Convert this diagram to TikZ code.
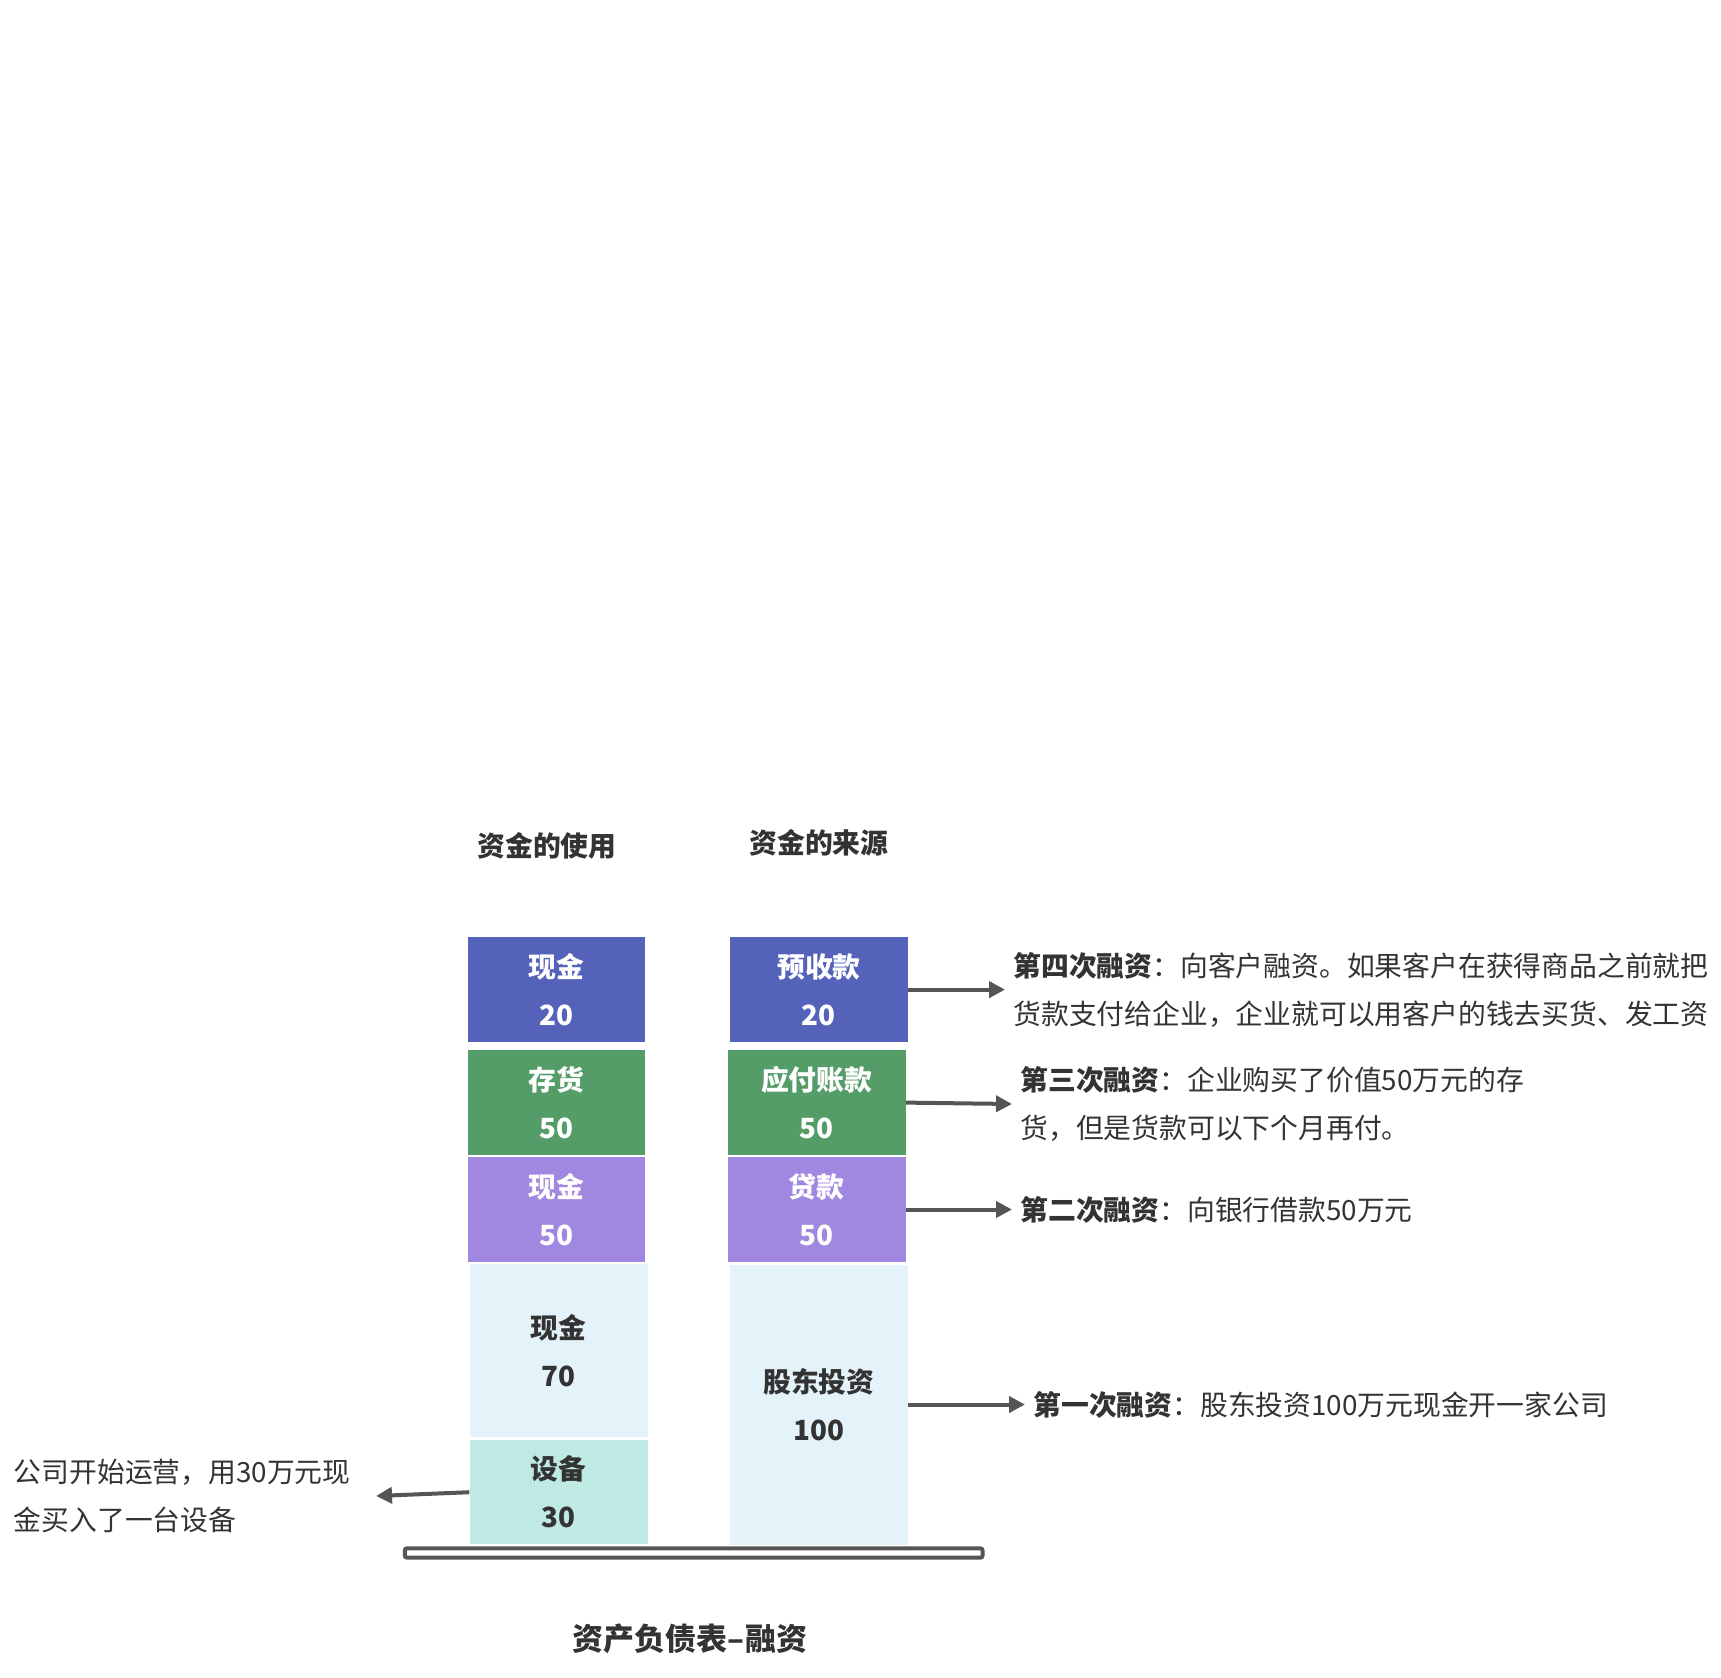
\documentclass[tikz,border=0pt]{standalone}
\usepackage{fontspec}
\setmainfont{Noto Sans CJK SC}
\usetikzlibrary{arrows.meta}
\definecolor{cashblue}{HTML}{5462B9}
\definecolor{stockgreen}{HTML}{559D68}
\definecolor{loanpurple}{HTML}{A087E0}
\definecolor{paleblue}{HTML}{E4F3FA}
\definecolor{paleteal}{HTML}{BFEAE3}
\definecolor{inkgray}{HTML}{333333}
\definecolor{arrowgray}{HTML}{555555}
\newcommand{\colL}{556.5}
\newcommand{\colLb}{558.7}
\newcommand{\colR}{818.9}
\newcommand{\colRb}{816.6}
\newcommand{\bodyfont}{\fontsize{13.9pt}{24pt}\selectfont}
\tikzset{
  block/.style={minimum width=88.9pt,minimum height=52.2pt,inner sep=0pt,
    align=center,text=white,font=\bodyfont\bfseries},
  paleblock/.style={block,text=inkgray},
  headline/.style={font=\bodyfont\bfseries,text=inkgray},
  note/.style={align=left,text=inkgray,font=\bodyfont,inner xsep=4pt,inner ysep=0pt},
  arr/.style={arrowgray,line width=2pt,-{Triangle[length=8pt,width=8pt]}},
}

\begin{document}
\begin{tikzpicture}[x=0.5pt,y=-0.5pt]
\useasboundingbox (0,0) rectangle (1721,1678);

%% ---------------- column headings ----------------
\node[headline] (useHead) at (547,846) {资金的使用};
\node[headline] (srcHead) at (819,843) {资金的来源};

%% ---------------- left column: uses of funds ----------------
\node[block,fill=cashblue]   (useCashA) at (\colL,989.6)  {现金\\20};
\node[block,fill=stockgreen] (useStock) at (\colL,1102.6) {存货\\50};
\node[block,fill=loanpurple,minimum height=52.5pt] (useCashB) at (\colL,1209.5) {现金\\50};
\node[paleblock,fill=paleblue,minimum height=86.2pt] (useCashC) at (\colLb,1350.6) {现金\\70};
\node[paleblock,fill=paleteal] (useEquip) at (\colLb,1492.2) {设备\\30};

%% ---------------- right column: sources of funds ----------------
\node[block,fill=cashblue]   (srcPre)  at (\colR,989.6)   {预收款\\20};
\node[block,fill=stockgreen] (srcPay)  at (\colRb,1102.6) {应付账款\\50};
\node[block,fill=loanpurple,minimum height=52.5pt] (srcLoan) at (\colRb,1209.5) {贷款\\50};
\node[paleblock,fill=paleblue,minimum height=140pt] (srcEquity) at (\colR,1404.5) {股东投资\\100};

%% ---------------- base bar and title ----------------
\draw[arrowgray,line width=2pt,rounded corners=1pt,fill=white] (404.8,1548.4) rectangle (982.5,1557.6);
\node[font=\fontsize{15.5pt}{18pt}\selectfont\bfseries,text=inkgray] (title) at (690,1639) {资产负债表–融资};

%% ---------------- notes ----------------
\node[note,anchor=west] (noteFour) at (1005,989.6)
  {\textbf{第四次融资}：向客户融资。如果客户在获得商品之前就把\\货款支付给企业，企业就可以用客户的钱去买货、发工资};
\node[note,anchor=west] (noteThree) at (1012,1104)
  {\textbf{第三次融资}：企业购买了价值50万元的存\\货，但是货款可以下个月再付。};
\node[note,anchor=west] (noteTwo) at (1012,1209.5)
  {\textbf{第二次融资}：向银行借款50万元};
\node[note,anchor=west] (noteOne) at (1025,1404.5)
  {\textbf{第一次融资}：股东投资100万元现金开一家公司};
\node[note,anchor=east,inner xsep=12.5pt] (noteZero) at (376,1496)
  {公司开始运营，用30万元现\\金买入了一台设备};

%% ---------------- arrows ----------------
\draw[arr] (srcPre.east)    -- (noteFour.west);
\draw[arr] (srcPay.east)    -- (noteThree.west);
\draw[arr] (srcLoan.east)   -- (noteTwo.west);
\draw[arr] (srcEquity.east) -- (noteOne.west);
\draw[arr] (useEquip.west)  -- (noteZero.east);

\end{tikzpicture}
\end{document}
